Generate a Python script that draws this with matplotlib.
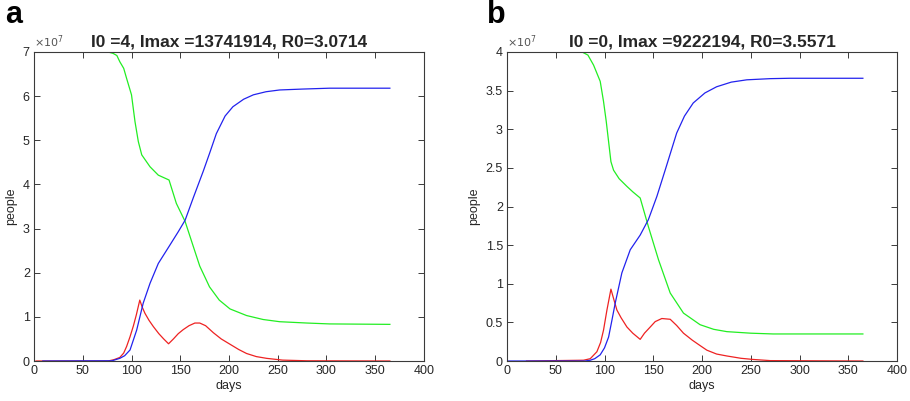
import matplotlib
matplotlib.use("Agg")
import matplotlib.pyplot as plt
from matplotlib.ticker import MultipleLocator

plt.rcParams['font.family'] = ['Liberation Sans', 'DejaVu Sans']

# ---- Panel a (values in units of 1e7 people) ----
a_title = "I0 =4, Imax =13741914, R0=3.0714"
a_S_days = [0, 76, 81, 85, 88, 92, 95, 100, 103.6, 107, 110.5, 119, 127.5, 138.5, 146, 155, 163, 170, 180, 190, 201, 218, 235, 252, 280, 303, 365]
a_S_vals = [7, 7, 6.97, 6.92, 6.78, 6.63, 6.40, 6.03, 5.42, 4.97, 4.67, 4.40, 4.21, 4.10, 3.57, 3.16, 2.62, 2.15, 1.68, 1.38, 1.18, 1.03, 0.94, 0.89, 0.86, 0.84, 0.83]
a_R_days = [9, 80, 88, 93, 98.5, 105.3, 112, 119, 127.5, 139.5, 148, 155, 163.4, 173.6, 180, 187, 196, 204, 215, 225, 238, 252, 275, 303, 365]
a_R_vals = [0, 0.005, 0.06, 0.12, 0.25, 0.70, 1.31, 1.76, 2.21, 2.63, 2.93, 3.19, 3.70, 4.30, 4.7, 5.15, 5.55, 5.76, 5.93, 6.03, 6.1, 6.14, 6.16, 6.18, 6.18]
a_I_days = [2, 76, 82, 88, 92, 95, 98.5, 102, 105, 108.5, 111, 113.8, 118, 122.4, 128, 133, 138, 143, 148, 153, 159, 165, 170, 176, 184, 192, 201, 210, 218, 228, 238.6, 255, 280, 365]
a_I_vals = [0, 0.0, 0.03, 0.08, 0.18, 0.33, 0.55, 0.80, 1.05, 1.38, 1.22, 1.08, 0.92, 0.78, 0.62, 0.5, 0.39, 0.5, 0.62, 0.71, 0.80, 0.86, 0.86, 0.80, 0.64, 0.50, 0.38, 0.26, 0.17, 0.10, 0.06, 0.02, 0.005, 0]

# ---- Panel b (values in units of 1e7 people) ----
b_title = "I0 =0, Imax =9222194, R0=3.5571"
b_S_days = [0, 77, 83, 88.8, 95.6, 99, 101.8, 104.2, 106.6, 109.3, 115, 123, 129, 136.6, 145, 155.4, 167.4, 181, 198, 212, 225.5, 250, 273, 365]
b_S_vals = [4, 4, 3.96, 3.83, 3.62, 3.36, 3.10, 2.84, 2.58, 2.47, 2.36, 2.26, 2.19, 2.11, 1.74, 1.31, 0.88, 0.62, 0.47, 0.41, 0.38, 0.36, 0.35, 0.35]
b_R_days = [0, 80, 85.4, 90, 95.6, 100, 104.2, 107.5, 111, 117.8, 126.4, 136.6, 145, 153.7, 162.2, 174, 182, 191, 203, 215, 230, 246, 270, 290, 365]
b_R_vals = [0, 0.0, 0.01, 0.03, 0.08, 0.17, 0.31, 0.52, 0.75, 1.14, 1.44, 1.63, 1.83, 2.13, 2.47, 2.95, 3.17, 3.34, 3.47, 3.55, 3.61, 3.64, 3.655, 3.66, 3.66]
b_I_days = [20, 78.5, 85.4, 92.2, 96, 99, 102.5, 106.6, 109.5, 112.7, 117, 123, 129, 136.6, 141, 146.9, 152, 158.8, 167.4, 174, 181, 190, 198, 205, 215, 225.5, 240, 252.5, 270, 365]
b_I_vals = [0, 0.01, 0.03, 0.12, 0.24, 0.40, 0.66, 0.93, 0.80, 0.66, 0.56, 0.44, 0.36, 0.28, 0.36, 0.44, 0.51, 0.55, 0.54, 0.46, 0.36, 0.27, 0.20, 0.14, 0.09, 0.065, 0.035, 0.02, 0.005, 0]

x_ticks = [0, 50, 100, 150, 200, 250, 300, 350, 400]

W, H = 910, 401
fig = plt.figure(figsize=(W / 100, H / 100), dpi=100)

axc = '#3a3a3a'
txtc = '#262626'

def make_panel(left_px, title, S, I, R, ymax, ystep, letter, letter_x):
    ax = fig.add_axes([left_px / W, 40 / H, 390 / W, 309 / H])
    ax.plot(S[0], S[1], color='#22ee22', lw=0.9)
    ax.plot(I[0], I[1], color='#ee2222', lw=0.9)
    ax.plot(R[0], R[1], color='#2222ee', lw=0.9)
    ax.set_xlim(0, 400)
    ax.set_ylim(0, ymax)
    ax.set_xticks(x_ticks)
    ax.yaxis.set_major_locator(MultipleLocator(ystep))
    ax.yaxis.set_major_formatter(plt.FuncFormatter(lambda v, p: f"{v:g}"))
    ax.tick_params(direction='in', top=True, right=True, length=4, width=0.7,
                   colors=axc, labelcolor=txtc, labelsize=9, pad=3)
    for s in ax.spines.values():
        s.set_color(axc)
        s.set_linewidth(0.8)
    ax.set_xlabel('days', fontsize=9, color=txtc, labelpad=2)
    ax.set_ylabel('people', fontsize=9, color=txtc, labelpad=4)
    ax.set_title(title, fontsize=12.5, fontweight='bold', color=txtc, pad=4)
    ax.text(0.0, 1.005, r'$\times10^{7}$', transform=ax.transAxes, fontsize=8,
            color='#555555', ha='left', va='bottom')
    fig.text(letter_x / W, 1 - 23 / H, letter, fontsize=22, fontweight='bold',
             ha='left', va='baseline', color='black')
    return ax

make_panel(34, a_title, (a_S_days, a_S_vals), (a_I_days, a_I_vals), (a_R_days, a_R_vals),
           7, 1, 'a', 5)
make_panel(507, b_title, (b_S_days, b_S_vals), (b_I_days, b_I_vals), (b_R_days, b_R_vals),
           4, 0.5, 'b', 487)

fig.savefig('out.png', dpi=100, facecolor='white')
